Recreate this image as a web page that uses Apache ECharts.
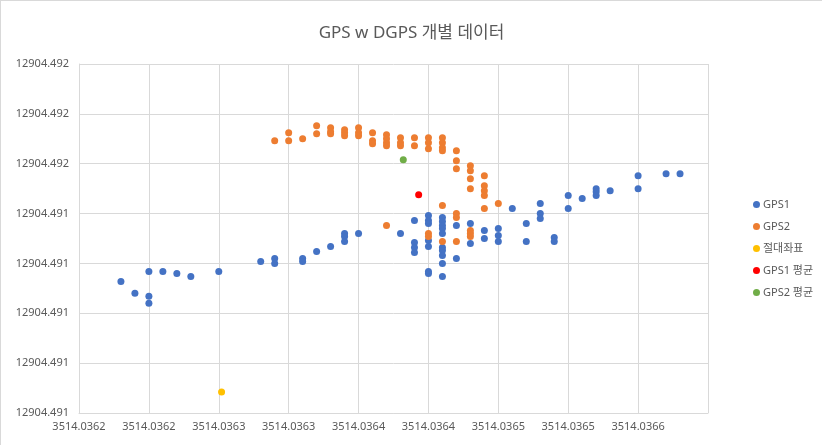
<!DOCTYPE html>
<html>
<head>
<meta charset="utf-8">
<script src="https://cdn.jsdelivr.net/npm/echarts@6/dist/echarts.min.js"></script>
<style>
  html, body { margin: 0; padding: 0; background: #fff; }
  #chart { width: 822px; height: 445px; box-sizing: border-box; border-left: 1px solid #d9d9d9; border-top: 1px solid #d9d9d9; }
</style>
</head>
<body>
<div id="chart"></div>
<script>
// axis setup
const xMin = 3514.03615;
const xMax = 3514.0366;
const xStep = 0.00005;
const yMin = 12904.4906;
const yMax = 12904.4920;
const yStep = 0.0002;
const xTickLabels = ['3514.0362', '3514.0362', '3514.0363', '3514.0363', '3514.0364',
  '3514.0364', '3514.0365', '3514.0365', '3514.0366', '3514.0366'];
const yTickLabels = ['12904.491', '12904.491', '12904.491', '12904.491', '12904.491',
  '12904.492', '12904.492', '12904.492'];

const gps1 = [
  [3514.03618, 12904.491128], [3514.03619, 12904.491080], [3514.03620, 12904.491168],
  [3514.03620, 12904.491068], [3514.03620, 12904.491040], [3514.03621, 12904.491168],
  [3514.03622, 12904.491160], [3514.03623, 12904.491148], [3514.03625, 12904.491168],
  [3514.03628, 12904.491208], [3514.03629, 12904.491220], [3514.03629, 12904.491200],
  [3514.03631, 12904.491220], [3514.03631, 12904.491208], [3514.03632, 12904.491248],
  [3514.03633, 12904.491268], [3514.03634, 12904.491320], [3514.03634, 12904.491308],
  [3514.03634, 12904.491288], [3514.03635, 12904.491320], [3514.03638, 12904.491320],
  [3514.03639, 12904.491372], [3514.03639, 12904.491284], [3514.03639, 12904.491264],
  [3514.03639, 12904.491244], [3514.03640, 12904.491392], [3514.03640, 12904.491372],
  [3514.03640, 12904.491360], [3514.03640, 12904.491292], [3514.03640, 12904.491268],
  [3514.03640, 12904.491168], [3514.03640, 12904.491160], [3514.03641, 12904.491384],
  [3514.03641, 12904.491368], [3514.03641, 12904.491352], [3514.03641, 12904.491340],
  [3514.03641, 12904.491320], [3514.03641, 12904.491264], [3514.03641, 12904.491252],
  [3514.03641, 12904.491232], [3514.03641, 12904.491200], [3514.03641, 12904.491148],
  [3514.03642, 12904.491352], [3514.03642, 12904.491220], [3514.03643, 12904.491360],
  [3514.03643, 12904.491280], [3514.03644, 12904.491332], [3514.03644, 12904.491300],
  [3514.03645, 12904.491340], [3514.03645, 12904.491312], [3514.03645, 12904.491288],
  [3514.03646, 12904.491420], [3514.03647, 12904.491360], [3514.03647, 12904.491288],
  [3514.03648, 12904.491440], [3514.03648, 12904.491400], [3514.03648, 12904.491380],
  [3514.03649, 12904.491304], [3514.03649, 12904.491288], [3514.03650, 12904.491472],
  [3514.03650, 12904.491420], [3514.03651, 12904.491460], [3514.03652, 12904.491500],
  [3514.03652, 12904.491488], [3514.03652, 12904.491472], [3514.03653, 12904.491492],
  [3514.03655, 12904.491552], [3514.03655, 12904.491500], [3514.03657, 12904.491560],
  [3514.03658, 12904.491560]
];

const gps2 = [
  [3514.03629, 12904.491692], [3514.03630, 12904.491724], [3514.03630, 12904.491692],
  [3514.03631, 12904.491700], [3514.03632, 12904.491752], [3514.03632, 12904.491720],
  [3514.03633, 12904.491744], [3514.03633, 12904.491728], [3514.03633, 12904.491720],
  [3514.03634, 12904.491736], [3514.03634, 12904.491724], [3514.03634, 12904.491712],
  [3514.03635, 12904.491744], [3514.03635, 12904.491724], [3514.03635, 12904.491712],
  [3514.03636, 12904.491724], [3514.03636, 12904.491692], [3514.03636, 12904.491680],
  [3514.03637, 12904.491716], [3514.03637, 12904.491700], [3514.03637, 12904.491684],
  [3514.03637, 12904.491672], [3514.03638, 12904.491704], [3514.03638, 12904.491684],
  [3514.03638, 12904.491672], [3514.03639, 12904.491704], [3514.03639, 12904.491672],
  [3514.03640, 12904.491704], [3514.03640, 12904.491684], [3514.03640, 12904.491660],
  [3514.03641, 12904.491704], [3514.03641, 12904.491684], [3514.03641, 12904.491664],
  [3514.03641, 12904.491652], [3514.03642, 12904.491652], [3514.03642, 12904.491612],
  [3514.03642, 12904.491580], [3514.03643, 12904.491592], [3514.03643, 12904.491572],
  [3514.03643, 12904.491540], [3514.03643, 12904.491500], [3514.03644, 12904.491552],
  [3514.03644, 12904.491512], [3514.03644, 12904.491492], [3514.03644, 12904.491472],
  [3514.03644, 12904.491420], [3514.03645, 12904.491440], [3514.03637, 12904.491352],
  [3514.03641, 12904.491432], [3514.03642, 12904.491400], [3514.03642, 12904.491384],
  [3514.03640, 12904.491320], [3514.03640, 12904.491308], [3514.03641, 12904.491288],
  [3514.03642, 12904.491288], [3514.03643, 12904.491332], [3514.03643, 12904.491320],
  [3514.03643, 12904.491308]
];

const absolute = [[3514.036252, 12904.490684]];
const gps1Mean = [[3514.036393, 12904.491476]];
const gps2Mean = [[3514.036382, 12904.491616]];

const seriesNames = ['GPS1', 'GPS2', '절대좌표', 'GPS1 평균', 'GPS2 평균'];
const seriesColors = ['#4472C4', '#ED7D31', '#FFC000', '#FF0000', '#70AD47'];
const seriesData = [gps1, gps2, absolute, gps1Mean, gps2Mean];

const font = '"Noto Sans", "Noto Sans CJK KR", sans-serif';

const chart = echarts.init(document.getElementById('chart'));
chart.setOption({
  animation: false,
  textStyle: { fontFamily: font },
  title: {
    text: 'GPS w DGPS 개별 데이터',
    left: 'center',
    top: 19,
    textStyle: { fontSize: 17, fontWeight: 'normal', color: '#595959', fontFamily: font },
  },
  legend: {
    orient: 'vertical',
    left: 747,
    top: 193,
    itemGap: 11,
    itemWidth: 7,
    itemHeight: 7,
    icon: 'circle',
    textStyle: { fontSize: 11, color: '#595959', padding: [0, 0, 0, -2] },
    data: seriesNames,
  },
  grid: { left: 78, right: 114, top: 63, bottom: 32, containLabel: false },
  xAxis: {
    type: 'value',
    min: xMin,
    max: xMax,
    interval: xStep,
    axisLine: { show: true, lineStyle: { color: '#d9d9d9' } },
    axisTick: { show: false },
    splitLine: { show: true, lineStyle: { color: '#d9d9d9' } },
    axisLabel: {
      color: '#595959',
      fontSize: 11,
      margin: 8,
      showMaxLabel: false,
      formatter: v => xTickLabels[Math.round((v - xMin) / xStep)] || '',
    },
  },
  yAxis: {
    type: 'value',
    min: yMin,
    max: yMax,
    interval: yStep,
    axisLine: { show: true, lineStyle: { color: '#d9d9d9' } },
    axisTick: { show: false },
    splitLine: { show: true, lineStyle: { color: '#d9d9d9' } },
    axisLabel: {
      color: '#595959',
      fontSize: 11,
      margin: 10,
      formatter: v => yTickLabels[Math.round((v - yMin) / yStep)] || '',
    },
  },
  series: seriesNames.map((name, i) => ({
    name,
    type: 'scatter',
    symbol: 'circle',
    symbolSize: 7,
    itemStyle: { color: seriesColors[i], opacity: 1 },
    data: seriesData[i],
  })),
});
</script>
</body>
</html>
